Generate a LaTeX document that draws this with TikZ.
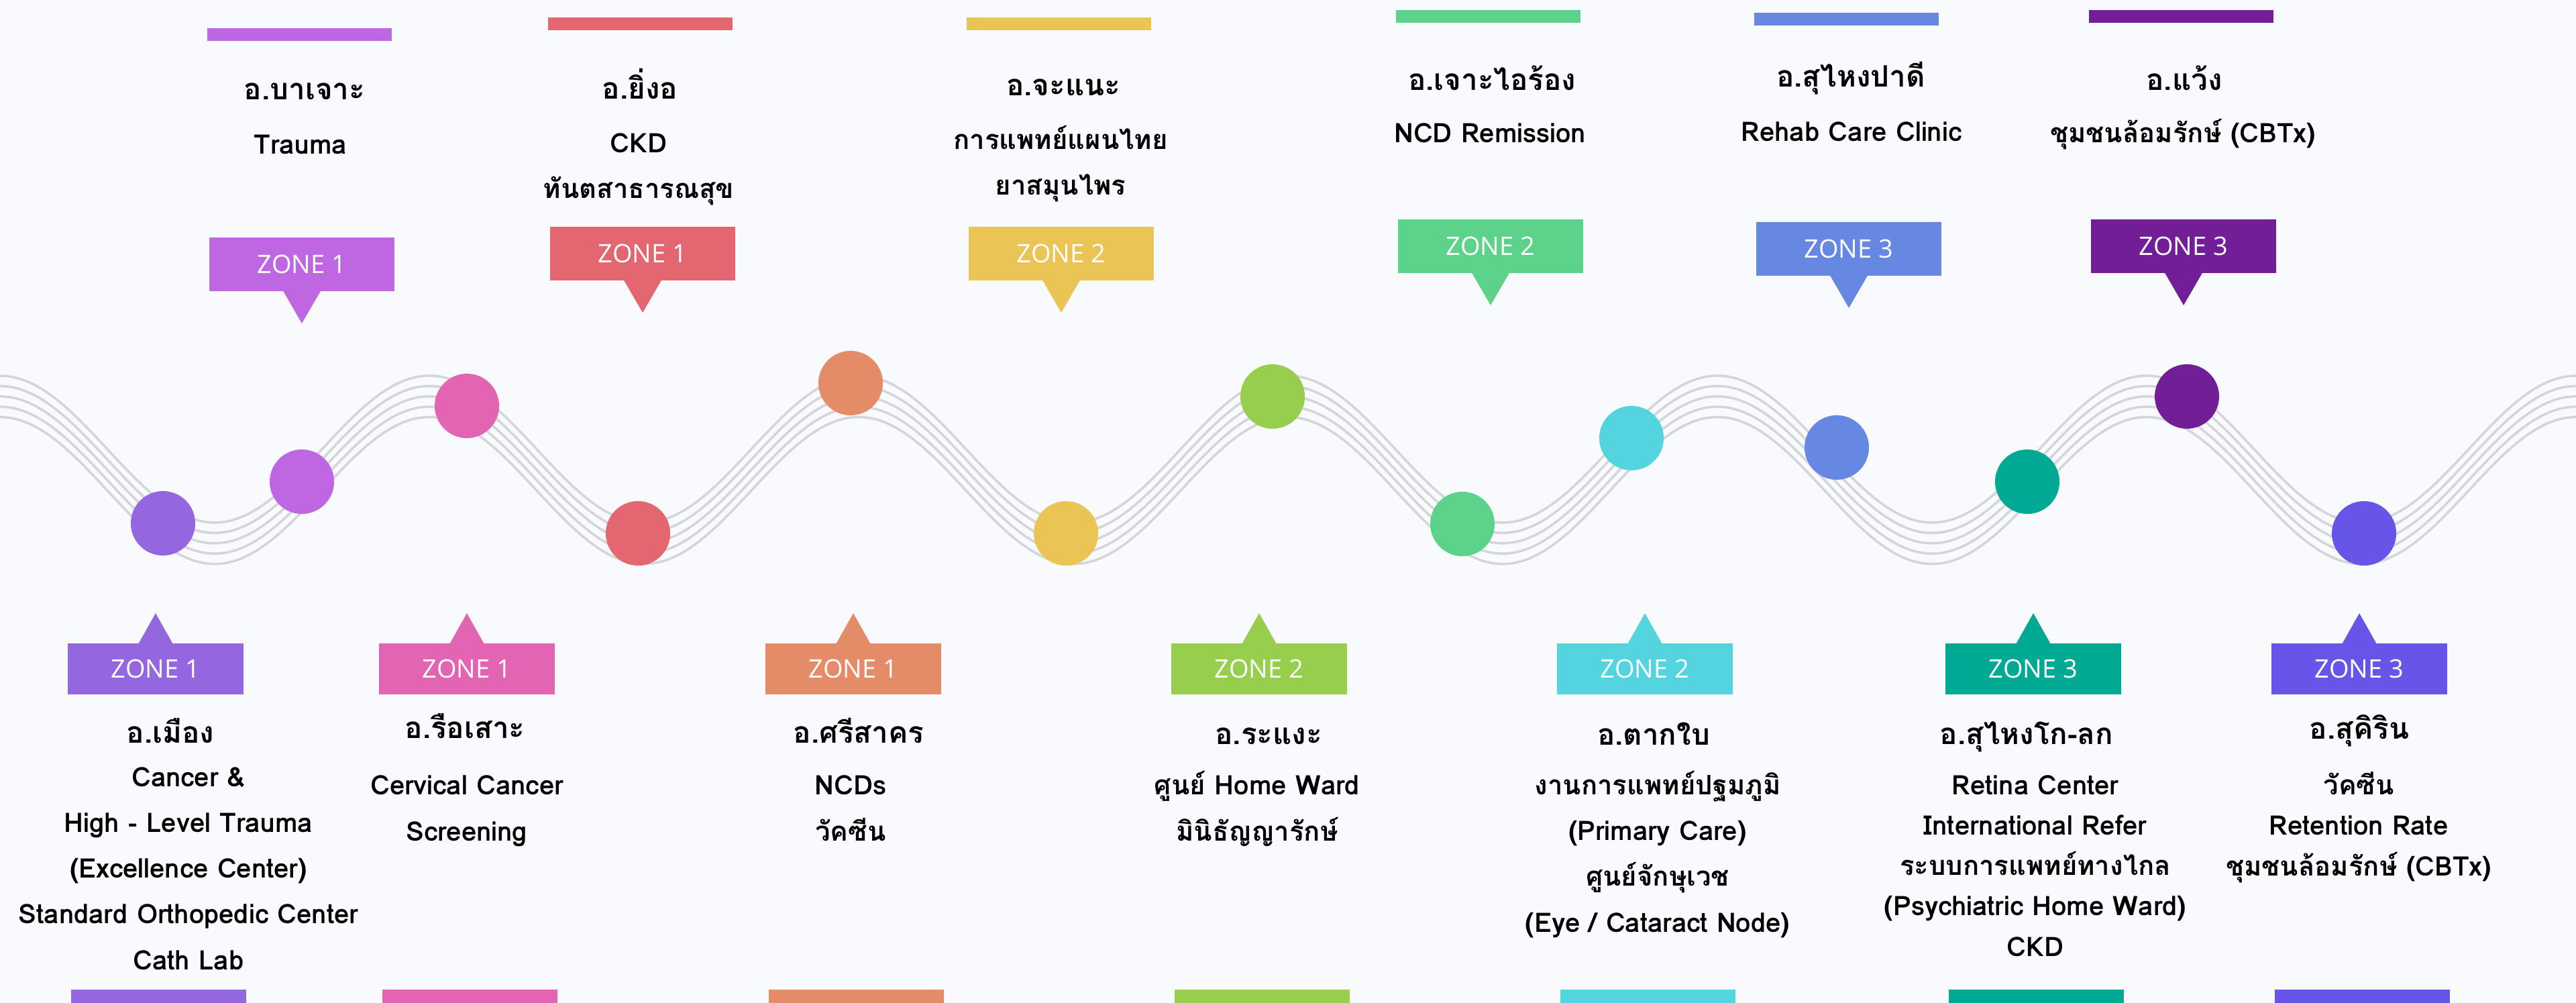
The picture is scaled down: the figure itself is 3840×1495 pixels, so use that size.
\documentclass[tikz,border=0pt]{standalone}
\usepackage{fontspec}
\setmainfont{Loma}[Script=Thai]
\newfontfamily\zonefamily{Open Sans}
\usetikzlibrary{positioning}

\definecolor{bgpage}{HTML}{F9FAFE}
\definecolor{wavegray}{HTML}{D4D5D7}
\definecolor{cPurple}{HTML}{9467E0}
\definecolor{cOrchid}{HTML}{BF67E3}
\definecolor{cPink}{HTML}{E464B4}
\definecolor{cRed}{HTML}{E36670}
\definecolor{cOrange}{HTML}{E48C68}
\definecolor{cYellow}{HTML}{EAC556}
\definecolor{cLime}{HTML}{97CE4E}
\definecolor{cGreen}{HTML}{5DD28A}
\definecolor{cCyan}{HTML}{54D4DE}
\definecolor{cBlue}{HTML}{6788E2}
\definecolor{cTeal}{HTML}{00A994}
\definecolor{cPlum}{HTML}{721E96}
\definecolor{cIndigo}{HTML}{6655E8}

\newcommand{\txtfont}{\fontsize{11.4pt}{19.35pt}\selectfont\bfseries}
\newcommand{\txtfontb}{\fontsize{11.4pt}{17.07pt}\selectfont\bfseries}
\newcommand{\ttlfont}{\fontsize{12.5pt}{15pt}\selectfont\bfseries}
\newcommand{\znfont}{\zonefamily\fontsize{10.8pt}{13pt}\selectfont}

\begin{document}
\begin{tikzpicture}[x=0.01cm, y=-0.01cm,
    wave/.style={draw=wavegray, line width=1pt},
    dot/.style={circle, fill=#1, minimum size=0.96cm, inner sep=0pt},
    zonetop/.style={fill=#1, text=white, minimum width=2.75cm, minimum height=0.8cm, inner sep=0pt, font=\znfont},
    zonebot/.style={fill=#1, text=white, minimum width=2.61cm, minimum height=0.76cm, inner sep=0pt, font=\znfont},
    ttl/.style={anchor=base, inner sep=0pt, font=\ttlfont},
    txt/.style={anchor=base, align=center, inner sep=0pt, font=\txtfont}]

  \useasboundingbox (0,0) rectangle (3840,1495);
  \fill[bgpage] (0,0) rectangle (3840,1495);

  % the wave
  \foreach \k in {0,...,4} {
    \draw[wave] plot[domain=0:3840, samples=241, smooth] (\x, {669.5+15.4*\k-109.5*cos(0.5625*\x)});
  }

  % dots on the wave
  \foreach \n/\col/\px/\py in {1/cPurple/243/780, 2/cOrchid/450/718, 3/cPink/696/605,
      4/cRed/951/795, 5/cOrange/1268/571, 6/cYellow/1589/795, 7/cLime/1897/591,
      8/cGreen/2180/781, 9/cCyan/2432/653, 10/cBlue/2738/667, 11/cTeal/3022/718,
      12/cPlum/3260/591, 13/cIndigo/3524/795} {
    \node[dot=\col] (d\n) at (\px,\py) {};
  }

  % callouts above
  \foreach \n/\col/\cx/\cy/\zn in {1/cOrchid/450/394/1, 2/cRed/958/378/1, 3/cYellow/1582/378/2,
      4/cGreen/2222/367/2, 5/cBlue/2756/371/3, 6/cPlum/3255/367/3} {
    \node[zonetop=\col] (zt\n) at (\cx,\cy) {ZONE \zn};
    \coordinate (tt\n) at (\cx,{\cy+88});
    \fill[\col] ([xshift=-0.28cm,yshift=0.3pt]zt\n.south) -- ([xshift=0.28cm,yshift=0.3pt]zt\n.south) -- (tt\n) -- cycle;
    \fill[\col] ({\cx-141},{\cy-352}) rectangle ++(275,19);
  }

  % callouts below
  \foreach \n/\col/\cx/\zn in {1/cPurple/232/1, 2/cPink/696/1, 3/cOrange/1272/1, 4/cLime/1877/2,
      5/cCyan/2452/2, 6/cTeal/3031/3, 7/cIndigo/3517/3} {
    \node[zonebot=\col] (zb\n) at (\cx,997) {ZONE \zn};
    \coordinate (tb\n) at (\cx,914);
    \fill[\col] ([xshift=-0.255cm,yshift=-0.3pt]zb\n.north) -- ([xshift=0.255cm,yshift=-0.3pt]zb\n.north) -- (tb\n) -- cycle;
    \fill[\col] ({\cx-126},1475) rectangle ++(261,22);
  }

  % texts above (base = last line)
  \node[ttl] (name1) at (454,149) {อ.บาเจาะ};
  \node[txt] (info1) at (448,230) {Trauma};
  \node[ttl] (name2) at (954,148) {อ.ยิ่งอ};
  \node[txt] (info2) at (952,296) {CKD\\ทันตสาธารณสุข};
  \node[ttl] (name3) at (1585,143) {อ.จะแนะ};
  \node[txt] (info3) at (1581,291) {การแพทย์แผนไทย\\ยาสมุนไพร};
  \node[ttl] (name4) at (2224,135) {อ.เจาะไอร้อง};
  \node[txt] (info4) at (2221,213) {NCD Remission};
  \node[ttl] (name5) at (2759,130) {อ.สุไหงปาดี};
  \node[txt] (info5) at (2760,211) {Rehab Care Clinic};
  \node[ttl] (name6) at (3256,135) {อ.แว้ง};
  \node[txt] (info6) at (3254,213) {ชุมชนล้อมรักษ์ (CBTx)};

  % texts below (base = last line)
  \node[ttl] (name7) at (254,1107) {อ.เมือง};
  \node[txt] (info7) at (281,1445) {Cancer \&\\High - Level Trauma\\(Excellence Center)\\Standard Orthopedic Center\\Cath Lab};
  \node[ttl] (name8) at (693,1100) {อ.รือเสาะ};
  \node[txt] (info8) at (696,1253) {Cervical Cancer\\Screening};
  \node[ttl] (name9) at (1280,1107) {อ.ศรีสาคร};
  \node[txt] (info9) at (1268,1253) {NCDs\\วัคซีน};
  \node[ttl] (name10) at (1891,1109) {อ.ระแงะ};
  \node[txt] (info10) at (1874,1253) {ศูนย์ Home Ward\\มินิธัญญารักษ์};
  \node[ttl] (name11) at (2465,1110) {อ.ตากใบ};
  \node[txt] (info11) at (2471,1389) {งานการแพทย์ปฐมภูมิ\\(Primary Care)\\ศูนย์จักษุเวช\\(Eye / Cataract Node)};
  \node[ttl] (name12) at (3021,1109) {อ.สุไหงโก-ลก};
  \node[txt, font=\txtfontb] (info12) at (3034,1425) {Retina Center\\International Refer\\ระบบการแพทย์ทางไกล\\(Psychiatric Home Ward)\\CKD};
  \node[ttl] (name13) at (3517,1101) {อ.สุคิริน};
  \node[txt, font=\txtfontb] (info13) at (3516,1305) {วัคซีน\\Retention Rate\\ชุมชนล้อมรักษ์ (CBTx)};
\end{tikzpicture}
\end{document}
